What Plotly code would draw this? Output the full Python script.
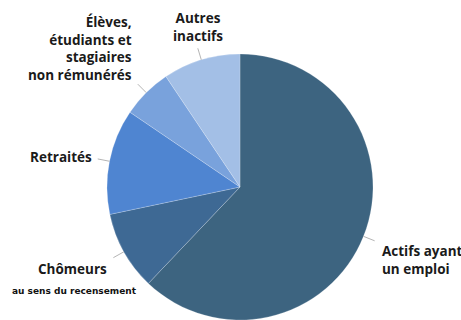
import math
import plotly.graph_objects as go

# Population de 15 à 64 ans selon le type d'activité (%)
categories = [
    "Actifs ayant un emploi",
    "Chômeurs",
    "Retraités",
    "Élèves, étudiants et stagiaires non rémunérés",
    "Autres inactifs",
]
values = [62.1, 9.6, 12.8, 6.1, 9.4]
label_texts = [
    "Actifs ayant<br>un emploi",
    "Chômeurs",
    "Retraités",
    "Élèves,<br>étudiants et<br>stagiaires<br>non rémunérés",
    "Autres<br>inactifs",
]
colors = ["#3d6480", "#3e6994", "#4f85d1", "#79a2dc", "#a3bfe6"]

W, H = 461, 320
CX, CY, R = 240, 187, 133  # pie centre and radius in pixels

fig = go.Figure(
    go.Pie(
        labels=categories,
        values=values,
        sort=False,
        direction="clockwise",
        rotation=0,
        marker=dict(colors=colors, line=dict(color="rgba(255,255,255,0.35)", width=0.6)),
        textinfo="none",
        hoverinfo="label+percent",
        showlegend=False,
        domain=dict(x=[(CX - R) / W, (CX + R) / W], y=[0, 1 - (CY - R) / H]),
    )
)

def px_to_paper(px, py):
    return px / W, 1 - py / H

# Label placement: anchor position (pixels), alignment
label_layout = [
    dict(x=380, y=260, xanchor="left", align="left"),
    dict(x=109, y=269, xanchor="right", align="center"),
    dict(x=94, y=157, xanchor="right", align="right"),
    dict(x=134, y=48, xanchor="right", align="right"),
    dict(x=198, y=27, xanchor="center", align="center"),
]

total = sum(values)
cum = 0.0
shapes = []
annotations = []
for val, text, lay in zip(values, label_texts, label_layout):
    mid = (cum + val / 2) / total * 2 * math.pi
    cum += val
    # leader line from the slice edge outward along its mid angle
    x0, y0 = CX + R * math.sin(mid), CY - R * math.cos(mid)
    x1, y1 = CX + (R + 12) * math.sin(mid), CY - (R + 12) * math.cos(mid)
    p0 = px_to_paper(x0, y0)
    p1 = px_to_paper(x1, y1)
    shapes.append(dict(type="line", xref="paper", yref="paper",
                       x0=p0[0], y0=p0[1], x1=p1[0], y1=p1[1],
                       line=dict(color="#b5b5b5", width=1)))
    lx, ly = px_to_paper(lay["x"], lay["y"])
    annotations.append(dict(
        x=lx, y=ly, xref="paper", yref="paper", text=text, showarrow=False,
        xanchor=lay["xanchor"], yanchor="middle", align=lay["align"],
        font=dict(family="Open Sans", size=13.5, color="#1a1a1a", weight="bold"),
    ))

sx, sy = px_to_paper(74, 291)
annotations.append(dict(
    x=sx, y=sy, xref="paper", yref="paper", text="au sens du recensement",
    showarrow=False, xanchor="center", yanchor="middle",
    font=dict(family="DejaVu Sans", size=9, color="#111111", weight="bold"),
))

fig.update_layout(
    width=W, height=H,
    margin=dict(l=0, r=0, t=0, b=0),
    paper_bgcolor="white",
    plot_bgcolor="white",
    shapes=shapes,
    annotations=annotations,
)

fig.write_html("out.html")
